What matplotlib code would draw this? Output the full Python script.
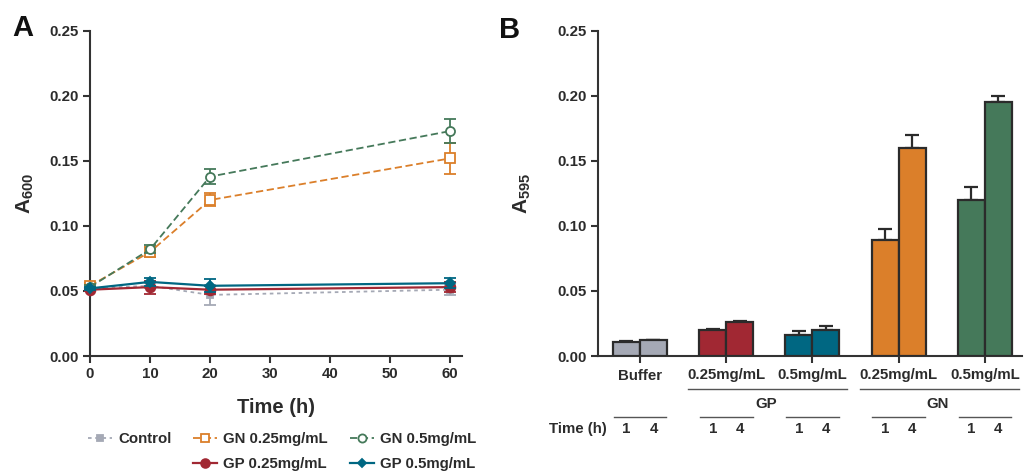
import matplotlib
matplotlib.use("Agg")
import matplotlib.pyplot as plt
from matplotlib.lines import Line2D
import matplotlib.transforms as mtransforms
import numpy as np

plt.rcParams['font.family'] = ['Liberation Sans', 'DejaVu Sans']
plt.rcParams['font.weight'] = 'bold'
plt.rcParams['mathtext.fontset'] = 'custom'
plt.rcParams['mathtext.bf'] = 'Liberation Sans:bold'
plt.rcParams['mathtext.rm'] = 'Liberation Sans:bold'
plt.rcParams['mathtext.default'] = 'bf'

TXT = '#2b2b2b'

# ---------------- Data: panel A ----------------
time_h = [0, 10, 20, 60]
control = [0.052, 0.054, 0.047, 0.051]
control_err = [0.001, 0.002, 0.008, 0.004]
gn025 = [0.054, 0.080, 0.120, 0.152]
gn025_err = [0.002, 0.004, 0.005, 0.012]
gn05 = [0.053, 0.082, 0.138, 0.173]
gn05_err = [0.002, 0.003, 0.006, 0.009]
gp025 = [0.051, 0.053, 0.051, 0.053]
gp025_err = [0.001, 0.005, 0.003, 0.004]
gp05 = [0.052, 0.057, 0.054, 0.056]
gp05_err = [0.001, 0.003, 0.005, 0.004]

# ---------------- Data: panel B ----------------
groups_b = ['Buffer', '0.25mg/mL', '0.5mg/mL', '0.25mg/mL', '0.5mg/mL']
a595_1h = [0.011, 0.020, 0.016, 0.089, 0.120]
a595_4h = [0.012, 0.026, 0.020, 0.160, 0.195]
err_1h = [0.0005, 0.001, 0.003, 0.009, 0.010]
err_4h = [0.0005, 0.001, 0.003, 0.010, 0.005]
bar_colors = ['#a5a9b5', '#a12833', '#006782', '#db7f2a', '#45795a']
time_labels = ['1', '4']
super_groups = ['GP', 'GN']

C_GRAY = '#a5a9b5'
C_RED = '#a12833'
C_TEAL = '#006782'
C_ORANGE = '#db7f2a'
C_GREEN = '#45795a'

W, H = 1025, 472
fig = plt.figure(figsize=(W / 100, H / 100), dpi=100)

def style_axis(ax):
    for s in ['top', 'right']:
        ax.spines[s].set_visible(False)
    for s in ['left', 'bottom']:
        ax.spines[s].set_linewidth(1.5)
        ax.spines[s].set_color('#333333')
    ax.tick_params(axis='both', direction='out', length=5, width=1.5,
                   color='#333333', labelcolor=TXT, labelsize=10.8, pad=3)
    for lab in ax.get_xticklabels() + ax.get_yticklabels():
        lab.set_fontweight('bold')

# ---------------- Panel A ----------------
axA = fig.add_axes([90 / W, 1 - 356 / H, (462 - 90) / W, (356 - 31) / H])
axA.set_xlim(0, 62)
axA.set_ylim(0, 0.25)
axA.set_yticks(np.arange(0, 0.2501, 0.05))
axA.set_yticklabels([f'{v:.2f}' for v in np.arange(0, 0.2501, 0.05)])
axA.set_xticks([0, 10, 20, 30, 40, 50, 60])

series = [
    ('Control', control, control_err, C_GRAY, (0, (2, 2)), 's', C_GRAY, 4.5, 1.3),
    ('GN 0.25mg/mL', gn025, gn025_err, C_ORANGE, (0, (4, 2)), 's', 'white', 6.5, 1.3),
    ('GN 0.5mg/mL', gn05, gn05_err, C_GREEN, (0, (4, 2)), 'o', 'white', 6.5, 1.3),
    ('GP 0.25mg/mL', gp025, gp025_err, C_RED, '-', 'o', C_RED, 7, 1.6),
    ('GP 0.5mg/mL', gp05, gp05_err, C_TEAL, '-', 'D', C_TEAL, 5, 1.6),
]
handles = {}
for i, (lab, y, e, c, ls, m, mfc, ms, lw) in enumerate(series):
    eb = axA.errorbar(time_h, y, yerr=e, color=c, ls=ls, lw=lw, marker=m,
                      mfc=mfc, mec=c, ms=ms, mew=1.3, capsize=4, capthick=1.3,
                      elinewidth=1.3, clip_on=False, zorder=3 + i)
    for art in eb.lines[1] + eb.lines[2]:
        art.set_clip_on(False)
    handles[lab] = Line2D([], [], color=c, ls=ls, lw=lw, marker=m, mfc=mfc,
                          mec=c, ms=ms * 0.9, mew=1.3)

style_axis(axA)
axA.set_xlabel('Time (h)', fontsize=14.5, fontweight='bold', color=TXT, labelpad=12)
axA.set_ylabel(r'A$_{600}$', fontsize=15, fontweight='bold', color=TXT, labelpad=10)

blank = Line2D([], [], color='none')
leg_handles = [handles['Control'], blank, handles['GN 0.25mg/mL'], handles['GP 0.25mg/mL'],
               handles['GN 0.5mg/mL'], handles['GP 0.5mg/mL']]
leg_labels = ['Control', '', 'GN 0.25mg/mL', 'GP 0.25mg/mL', 'GN 0.5mg/mL', 'GP 0.5mg/mL']
leg = fig.legend(leg_handles, leg_labels, ncol=3, loc='upper left',
                 bbox_to_anchor=(88 / W, 1 - 432 / H), frameon=False,
                 prop={'size': 10.8, 'weight': 'bold'}, handlelength=1.6,
                 handletextpad=0.4, columnspacing=1.45, labelspacing=0.75,
                 borderpad=0, borderaxespad=0)
for t in leg.get_texts():
    t.set_color(TXT)

# ---------------- Panel B ----------------
axB = fig.add_axes([598 / W, 1 - 356 / H, (1022 - 598) / W, (356 - 31) / H])
x = np.arange(len(groups_b))
bw = 0.313
axB.bar(x - bw / 2, a595_1h, width=bw, color=bar_colors, edgecolor='#2b2b2b',
        linewidth=1.6, zorder=3)
axB.bar(x + bw / 2, a595_4h, width=bw, color=bar_colors, edgecolor='#2b2b2b',
        linewidth=1.6, zorder=3)
axB.errorbar(x - bw / 2, a595_1h, yerr=[np.zeros(len(x)), err_1h], fmt='none',
             ecolor='#2b2b2b', elinewidth=1.6, capsize=5, capthick=1.6, zorder=2)
axB.errorbar(x + bw / 2, a595_4h, yerr=[np.zeros(len(x)), err_4h], fmt='none',
             ecolor='#2b2b2b', elinewidth=1.6, capsize=5, capthick=1.6, zorder=2)
axB.set_xlim(-0.487, 4.43)
axB.set_ylim(0, 0.25)
axB.set_yticks(np.arange(0, 0.2501, 0.05))
axB.set_yticklabels([f'{v:.2f}' for v in np.arange(0, 0.2501, 0.05)])
axB.set_xticks(x)
axB.set_xticklabels(groups_b)
style_axis(axB)
axB.tick_params(axis='x', labelsize=10.8, pad=4)
axB.set_ylabel(r'A$_{595}$', fontsize=15, fontweight='bold', color=TXT, labelpad=18)

trans = mtransforms.blended_transform_factory(axB.transData, axB.transAxes)
line_kw = dict(color='#555555', lw=1.0, clip_on=False, transform=trans)
# super-group lines
for (x0, x1), name in zip([(0.56, 2.40), (2.55, 4.39)], super_groups):
    axB.plot([x0, x1], [-0.1015, -0.1015], **line_kw)
    axB.text((x0 + x1) / 2 - 0.02, -0.148, name, transform=trans, ha='center',
             va='center', fontsize=10.8, fontweight='bold', color=TXT)
# time lines
for xi in x:
    axB.plot([xi - 0.305, xi + 0.305], [-0.188, -0.188], **line_kw)
    for dx, tl in zip([-bw / 2, bw / 2], time_labels):
        axB.text(xi + dx, -0.225, tl, transform=trans, ha='center', va='center',
                 fontsize=10.8, fontweight='bold', color=TXT)
axB.text(-0.39, -0.225, 'Time (h)', transform=trans, ha='right', va='center',
         fontsize=10.8, fontweight='bold', color=TXT)

# panel letters
fig.text(12 / W, 1 - 14 / H, 'A', fontsize=21, fontweight='bold', color='#111111', va='top')
fig.text(499 / W, 1 - 16 / H, 'B', fontsize=21, fontweight='bold', color='#111111', va='top')

fig.savefig('out.png', dpi=100)
